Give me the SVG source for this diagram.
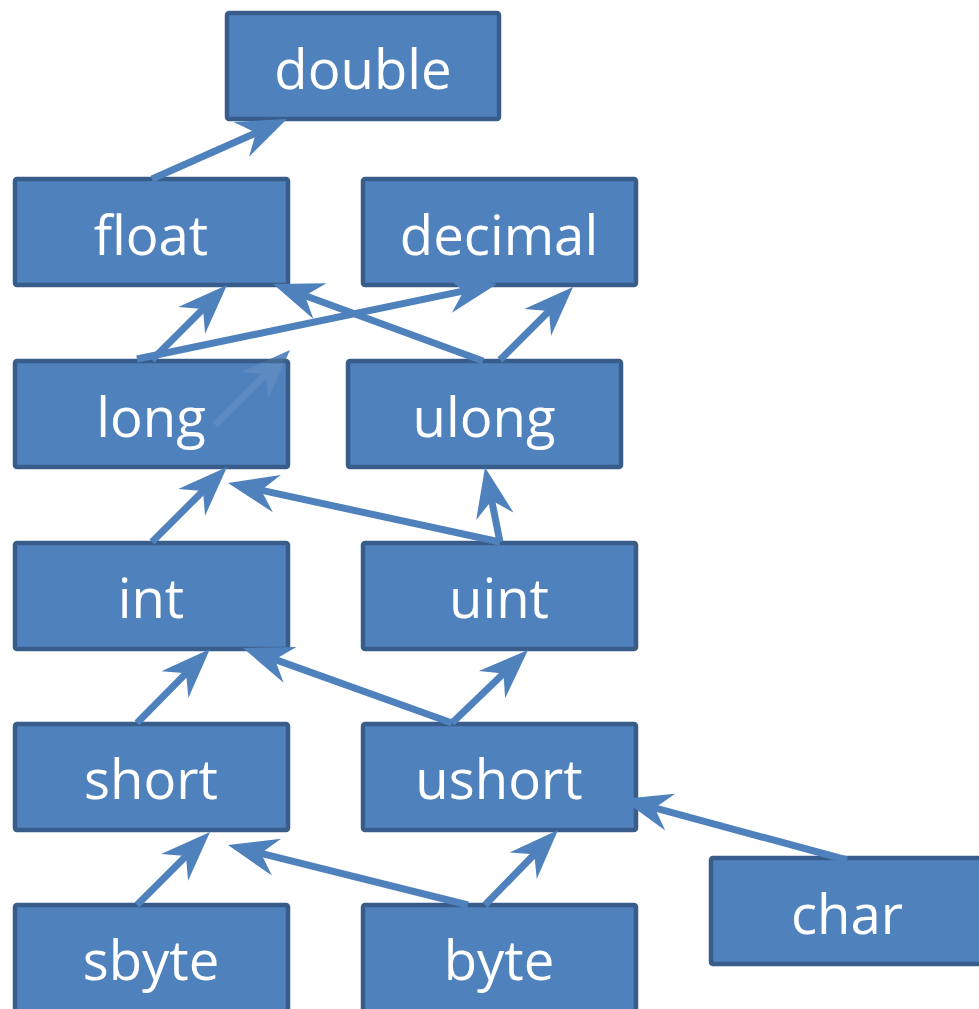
<svg xmlns="http://www.w3.org/2000/svg" width="979" height="1009" viewBox="0 0 979 1009">
<style>
.box{fill:#4f81bd;stroke:#385d8a;stroke-width:4.5}
.lbl{font-family:"Open Sans","Liberation Sans",sans-serif;font-size:54.5px;fill:#ffffff;text-anchor:middle}
.c{stroke:#4f81bd;stroke-width:7;fill:none;marker-end:url(#ah)}
.tint{stroke:#ffffff;stroke-width:7;fill:none;opacity:0.07;marker-end:url(#ahw)}
</style>
<defs>
<marker id="ah" markerUnits="userSpaceOnUse" orient="auto" refX="0" refY="0" markerWidth="60" markerHeight="60" overflow="visible">
<path d="M30,0 L-20,-19 L-4,0 L-20,19 Z" fill="#4f81bd"/>
</marker>
<marker id="ahw" markerUnits="userSpaceOnUse" orient="auto" refX="0" refY="0" markerWidth="60" markerHeight="60" overflow="visible">
<path d="M30,0 L-20,-19 L-4,0 L-20,19 Z" fill="#ffffff"/>
</marker>
</defs>
<g id="connectors-behind">
<line class="c" x1="215" y1="425" x2="268.8" y2="371.2"/>
</g>
<g id="double"><rect class="box" x="227" y="13" width="272" height="106" rx="2"/><text class="lbl" x="363" y="89">double</text></g>
<g id="float"><rect class="box" x="15" y="179" width="273" height="106" rx="2"/><text class="lbl" x="151" y="255">float</text></g>
<g id="decimal"><rect class="box" x="363" y="179" width="273" height="106" rx="2"/><text class="lbl" x="499" y="255">decimal</text></g>
<g id="long"><rect class="box" x="15" y="361" width="273" height="106" rx="2"/><line class="tint" x1="215" y1="425" x2="268.8" y2="371.2"/><text class="lbl" x="151" y="437">long</text></g>
<g id="ulong"><rect class="box" x="348" y="361" width="273" height="106" rx="2"/><text class="lbl" x="484" y="437">ulong</text></g>
<g id="int"><rect class="box" x="15" y="543" width="273" height="106" rx="2"/><text class="lbl" x="151" y="618">int</text></g>
<g id="uint"><rect class="box" x="363" y="543" width="273" height="106" rx="2"/><text class="lbl" x="499" y="618">uint</text></g>
<g id="short"><rect class="box" x="15" y="724" width="273" height="106" rx="2"/><text class="lbl" x="151" y="799">short</text></g>
<g id="ushort"><rect class="box" x="363" y="724" width="273" height="106" rx="2"/><text class="lbl" x="499" y="799">ushort</text></g>
<g id="sbyte"><rect class="box" x="15" y="905" width="273" height="110" rx="2"/><text class="lbl" x="151" y="980">sbyte</text></g>
<g id="byte"><rect class="box" x="363" y="905" width="273" height="110" rx="2"/><text class="lbl" x="499" y="980">byte</text></g>
<g id="char"><rect class="box" x="711" y="858" width="273" height="106" rx="2"/><text class="lbl" x="847" y="934">char</text></g>
<g id="connectors">
<line class="c" x1="152" y1="179" x2="259.6" y2="131.2"/>
<line class="c" x1="152" y1="360" x2="205.8" y2="306.2"/>
<line class="c" x1="137" y1="359" x2="467.6" y2="290.1"/>
<line class="c" x1="483" y1="361" x2="301.2" y2="294.3"/>
<line class="c" x1="500" y1="360" x2="551.8" y2="308.2"/>
<line class="c" x1="152" y1="542" x2="205.8" y2="488.2"/>
<line class="c" x1="500" y1="542" x2="257.3" y2="489.4"/>
<line class="c" x1="500" y1="542" x2="490.9" y2="496.6"/>
<line class="c" x1="137" y1="723" x2="188.9" y2="670.4"/>
<line class="c" x1="452" y1="723" x2="271.2" y2="658.1"/>
<line class="c" x1="452" y1="723" x2="506.4" y2="670.8"/>
<line class="c" x1="137" y1="905" x2="188.8" y2="853.2"/>
<line class="c" x1="468" y1="905" x2="257.1" y2="852.3"/>
<line class="c" x1="485" y1="905" x2="537.1" y2="851.5"/>
<line class="c" x1="847" y1="860" x2="650.9" y2="806.9"/>
</g>
</svg>
